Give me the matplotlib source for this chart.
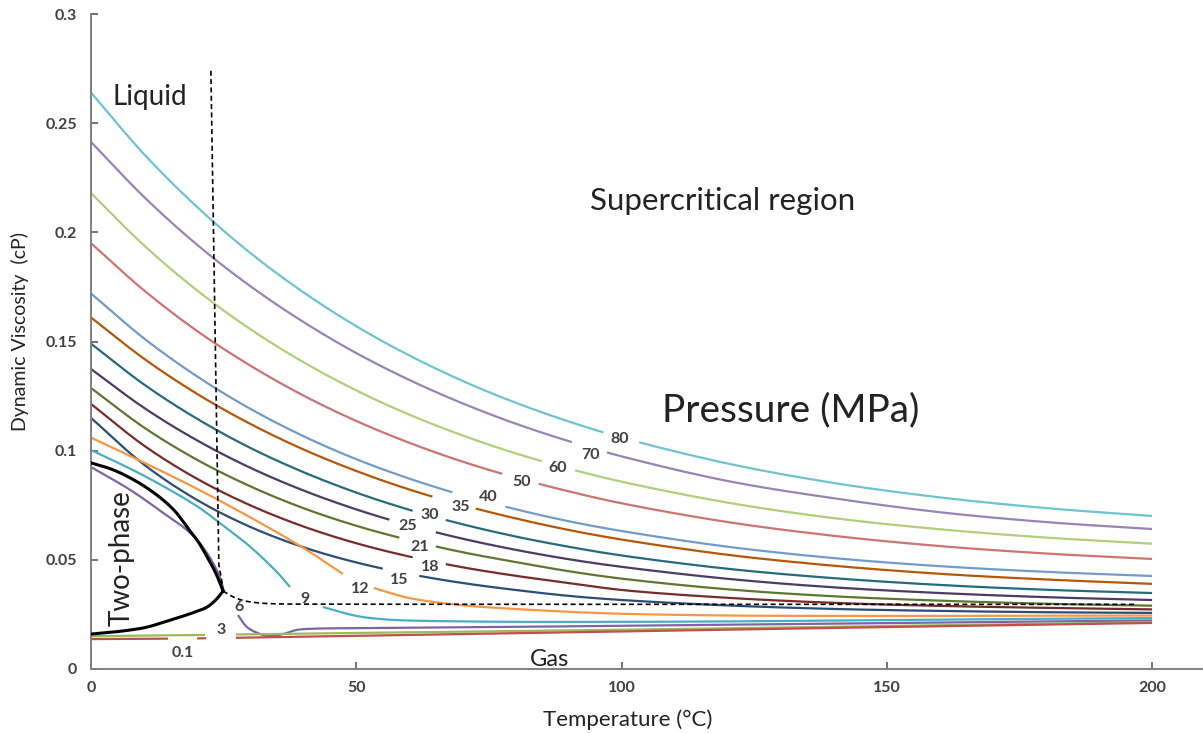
import numpy as np
import matplotlib.pyplot as plt
from matplotlib import rcParams

rcParams["font.family"] = ["Lato", "DejaVu Sans"]
rcParams["axes.spines.top"] = False
rcParams["axes.spines.right"] = False

# temperature grid (°C) shared by the supercritical isobars
T_GRID = [0, 10, 20, 30, 40, 50, 60, 70, 80, 90, 100, 120, 140, 160, 180, 200]

# dynamic viscosity (cP) per isobar
visc_80 = [0.264, 0.2358, 0.2116, 0.1906, 0.1726, 0.157, 0.1436, 0.132, 0.122, 0.1134, 0.106, 0.0941, 0.0852, 0.0786, 0.0737, 0.0701]
visc_70 = [0.2414, 0.2162, 0.1943, 0.1754, 0.159, 0.1447, 0.1324, 0.1217, 0.1124, 0.1044, 0.0974, 0.0861, 0.0782, 0.0718, 0.0673, 0.0641]
visc_60 = [0.218, 0.194, 0.1734, 0.1557, 0.1406, 0.1276, 0.1165, 0.107, 0.0988, 0.0918, 0.0858, 0.0762, 0.0691, 0.064, 0.0602, 0.0574]
visc_50 = [0.195, 0.1734, 0.1548, 0.139, 0.1253, 0.1136, 0.1036, 0.095, 0.0877, 0.0814, 0.0759, 0.0673, 0.061, 0.0563, 0.0529, 0.0504]
visc_40 = [0.172, 0.1514, 0.134, 0.1192, 0.1067, 0.0961, 0.0872, 0.0796, 0.0732, 0.0677, 0.0632, 0.056, 0.0508, 0.0471, 0.0445, 0.0426]
visc_35 = [0.161, 0.1421, 0.126, 0.1123, 0.1006, 0.0907, 0.0822, 0.0751, 0.069, 0.0637, 0.0593, 0.0523, 0.0473, 0.0436, 0.041, 0.039]
visc_30 = [0.149, 0.1303, 0.1146, 0.1013, 0.0902, 0.0808, 0.0729, 0.0663, 0.0607, 0.056, 0.052, 0.0459, 0.0416, 0.0385, 0.0363, 0.0348]
visc_25 = [0.1374, 0.1196, 0.1047, 0.0922, 0.0818, 0.0731, 0.0658, 0.0597, 0.0546, 0.0503, 0.0468, 0.0413, 0.0374, 0.0348, 0.0329, 0.0316]
visc_21 = [0.1287, 0.1106, 0.0958, 0.0837, 0.0737, 0.0656, 0.059, 0.0535, 0.049, 0.0448, 0.0414, 0.0365, 0.0333, 0.0313, 0.0299, 0.029]
visc_18 = [0.1214, 0.1023, 0.0871, 0.075, 0.0653, 0.0576, 0.0515, 0.0466, 0.0427, 0.0394, 0.0362, 0.0326, 0.0303, 0.0289, 0.028, 0.0273]
visc_15 = [0.115, 0.0936, 0.0774, 0.0651, 0.0558, 0.0488, 0.0435, 0.0394, 0.0362, 0.0335, 0.0316, 0.0291, 0.0275, 0.0266, 0.026, 0.0257]

# low-pressure isobars cross the two-phase region, each with its own grid
t_12 = [0, 10, 20, 30, 40, 47.5, 50, 53.3, 60, 70, 80, 90, 100, 120, 140, 160, 180, 200]
visc_12 = [0.106, 0.0945, 0.0825, 0.0695, 0.0555, 0.0435, np.nan, 0.0371, 0.0325, 0.0292, 0.0275, 0.0262, 0.0253, 0.0245, 0.0243, 0.0243, 0.0244, 0.0245]
t_9 = [0, 10, 20, 25, 30, 35, 37.5, 40, 43.7, 50, 55, 60, 70, 80, 100, 120, 140, 160, 180, 200]
visc_9 = [0.1003, 0.0885, 0.0745, 0.0655, 0.056, 0.0445, 0.0376, np.nan, 0.0284, 0.0243, 0.0228, 0.0222, 0.0218, 0.0216, 0.0216, 0.0218, 0.0222, 0.0226, 0.023, 0.0233]
t_6 = [0, 7.4, 13.6, 18.7, 21.9, 24.3, 25, 26.4, 27.7, 29.4, 31.9, 33.7, 36.2, 38.8, 42.6, 50, 60, 80, 100, 120, 140, 160, 180, 200]
visc_6 = [0.0925, 0.082, 0.0715, 0.0623, 0.053, 0.042, 0.036, np.nan, 0.0247, 0.0192, 0.016, 0.0151, 0.016, 0.0179, 0.0185, 0.0187, 0.0189, 0.0193, 0.0198, 0.0203, 0.0208, 0.0213, 0.0218, 0.0222]
t_3 = [0, 10, 21.5, 24, 27.3, 50, 100, 150, 200]
visc_3 = [0.015, 0.0153, 0.0156, np.nan, 0.0158, 0.0165, 0.018, 0.0197, 0.0214]
t_01 = [0, 14.5, 17, 20, 21.7, 24, 27.3, 50, 100, 150, 200]
visc_01 = [0.0137, 0.0139, np.nan, 0.014, 0.0141, np.nan, 0.0143, 0.0152, 0.0172, 0.0192, 0.0211]

# saturation dome: liquid side and vapour side, meeting at the critical point
liq_t = [0, 4, 7.4, 10.5, 13.6, 16, 18.1, 20.2, 21.9, 23.5, 24.9]
liq_v = [0.0944, 0.0914, 0.0875, 0.083, 0.0774, 0.0718, 0.065, 0.0583, 0.0513, 0.044, 0.0357]
vap_t = [0, 4.1, 7.5, 10.6, 13.5, 16.8, 19.5, 21.9, 23.5, 24.9]
vap_v = [0.016, 0.0169, 0.0179, 0.0192, 0.0213, 0.0238, 0.026, 0.0284, 0.0316, 0.0357]

# dashed border of the supercritical region
edge_t = [22.6, 24.1, 24.6, 24.9]
edge_v = [0.274, 0.0477, 0.041, 0.0357]
floor_t = [24.9, 27, 29, 32, 36, 45, 196.6]
floor_v = [0.0357, 0.0328, 0.0312, 0.0302, 0.0298, 0.0297, 0.0296]

# isobar labels (MPa) and where they sit
labels = ["80", "70", "60", "50", "40", "35", "30", "25", "21", "18", "15", "12", "9", "6", "3", "0.1"]
label_t = [99.7, 94.1, 88.0, 81.2, 74.8, 69.6, 63.9, 59.7, 61.9, 63.9, 58.0, 50.7, 40.4, 27.9, 24.5, 17.3]
label_v = [0.1054, 0.098, 0.0921, 0.0857, 0.0788, 0.0742, 0.0705, 0.0656, 0.0559, 0.0466, 0.0408, 0.0366, 0.032, 0.0284, 0.0178, 0.0073]

series = [
    (T_GRID, visc_80, "#6FC3D1"), (T_GRID, visc_70, "#9983B5"), (T_GRID, visc_60, "#AFCF7A"),
    (T_GRID, visc_50, "#CD7371"), (T_GRID, visc_40, "#729ACA"), (T_GRID, visc_35, "#B65708"),
    (T_GRID, visc_30, "#276A7C"), (T_GRID, visc_25, "#4D3B62"), (T_GRID, visc_21, "#5F7530"),
    (T_GRID, visc_18, "#772C2A"), (T_GRID, visc_15, "#2C4D75"), (t_12, visc_12, "#F79646"),
    (t_9, visc_9, "#4BACC6"), (t_6, visc_6, "#8064A2"), (t_3, visc_3, "#9BBB59"),
    (t_01, visc_01, "#C0504D"),
]

# stretch of each supercritical isobar left blank for its label (°C)
label_gaps = [(96.9, 102.5), (91, 97), (85.2, 91), (78, 84), (68.4, 77.9), (64.8, 72.4),
              (61.1, 66.7), (56.4, 64.5), (58.6, 64.8), (61.1, 66.7), (55, 61.6)]

YS = 411.5  # cP -> °C-equivalent so the curve is smoothed in screen proportions


def smooth(t, v, n=16):
    """Centripetal Catmull-Rom through the points, like a smoothed spreadsheet line."""
    P = np.column_stack([t, np.asarray(v) * YS])
    if len(P) < 3:
        return P[:, 0], P[:, 1] / YS
    P = np.vstack([2 * P[0] - P[1], P, 2 * P[-1] - P[-2]])
    out = []
    for i in range(1, len(P) - 2):
        p0, p1, p2, p3 = P[i - 1], P[i], P[i + 1], P[i + 2]
        k0 = 0.0
        k1 = k0 + np.linalg.norm(p1 - p0) ** 0.5
        k2 = k1 + np.linalg.norm(p2 - p1) ** 0.5
        k3 = k2 + np.linalg.norm(p3 - p2) ** 0.5
        s = np.linspace(k1, k2, n, endpoint=False)[:, None]
        a1 = (k1 - s) / (k1 - k0) * p0 + (s - k0) / (k1 - k0) * p1
        a2 = (k2 - s) / (k2 - k1) * p1 + (s - k1) / (k2 - k1) * p2
        a3 = (k3 - s) / (k3 - k2) * p2 + (s - k2) / (k3 - k2) * p3
        b1 = (k2 - s) / (k2 - k0) * a1 + (s - k0) / (k2 - k0) * a2
        b2 = (k3 - s) / (k3 - k1) * a2 + (s - k1) / (k3 - k1) * a3
        out.append((k2 - s) / (k2 - k1) * b1 + (s - k1) / (k2 - k1) * b2)
    out.append(P[-2][None, :])
    out = np.vstack(out)
    return out[:, 0], out[:, 1] / YS


def plot_smooth(ax, t, v, gap=None, **kw):
    t = np.asarray(t, float)
    v = np.asarray(v, float)
    idx = np.flatnonzero(~np.isnan(v))
    runs = np.split(idx, np.flatnonzero(np.diff(idx) > 1) + 1)
    for r in runs:
        xs, ys = smooth(t[r], v[r])
        if gap is not None:
            ys = np.where((xs > gap[0]) & (xs < gap[1]), np.nan, ys)
        ax.plot(xs, ys, **kw)


fig = plt.figure(figsize=(12.03, 7.33), dpi=100)
ax = fig.add_axes([91 / 1203, 64 / 733, 1 - 91 / 1203, (669 - 14) / 733])

for i, (t, v, c) in enumerate(series):
    gap = label_gaps[i] if i < len(label_gaps) else None
    plot_smooth(ax, t, v, gap=gap, color=c, lw=1.6, solid_capstyle="butt", zorder=2)

plot_smooth(ax, liq_t, liq_v, color="black", lw=2.2, zorder=4)
plot_smooth(ax, vap_t, vap_v, color="black", lw=2.2, zorder=4)
ax.plot(edge_t, edge_v, color="black", lw=1.2, ls=(0, (3, 2)), zorder=4)
plot_smooth(ax, floor_t, floor_v, color="black", lw=1.2, ls=(0, (3, 2)), zorder=4)

for s, t, v in zip(labels, label_t, label_v):
    ax.text(t, v, s, ha="center", va="center", fontsize=11.5, fontweight="bold",
            color="#404040", zorder=5)

# region names
ax.text(4.1, 0.262, "Liquid", fontsize=20, ha="left", va="center", color="#222")
ax.text(119, 0.2145, "Supercritical region", fontsize=22.5, ha="center", va="center", color="#222")
ax.text(131.8, 0.1186, "Pressure (MPa)", fontsize=28, ha="center", va="center", color="#222")
ax.text(5.8, 0.0508, "Two-phase", fontsize=20, rotation=90, ha="center", va="center", color="#222")
ax.text(86.5, 0.0045, "Gas", fontsize=17, ha="center", va="center", color="#222")

ax.set_xlim(0, 209.6)
ax.set_ylim(0, 0.3)
ax.set_xticks([0, 50, 100, 150, 200])
ax.set_yticks([0, 0.05, 0.1, 0.15, 0.2, 0.25, 0.3])
ax.set_yticklabels(["0", "0.05", "0.1", "0.15", "0.2", "0.25", "0.3"])
ax.tick_params(direction="in", length=5, width=1.2, color="#595959",
               labelsize=11.5, labelcolor="#404040")
for lab in ax.get_xticklabels() + ax.get_yticklabels():
    lab.set_fontweight("bold")
ax.tick_params(axis="x", pad=9)
ax.tick_params(axis="y", pad=10)
for side in ("left", "bottom"):
    ax.spines[side].set_color("#808080")
    ax.spines[side].set_linewidth(1.4)

ax.set_xlabel("Temperature (°C)", fontsize=16, color="#222")
ax.set_ylabel("Dynamic Viscosity  (cP)", fontsize=14, color="#222")
ax.xaxis.set_label_coords(0.483, -0.061)
ax.yaxis.set_label_coords(-0.056, 0.516)

fig.savefig("out.png", dpi=100, facecolor="white")
